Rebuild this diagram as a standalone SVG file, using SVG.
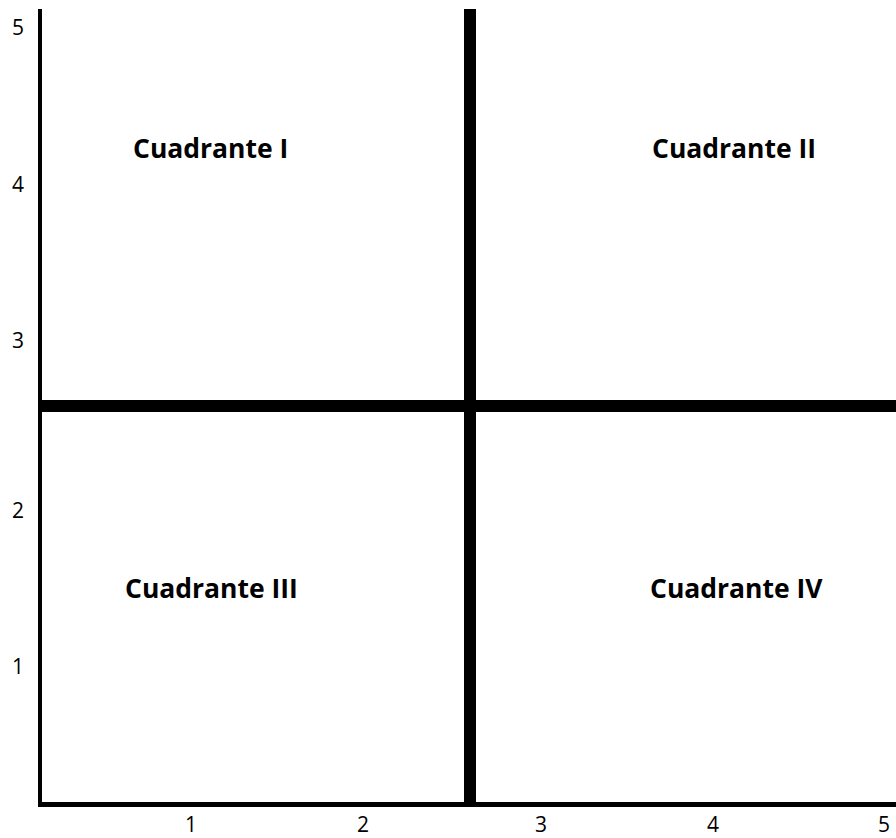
<svg xmlns="http://www.w3.org/2000/svg" width="896" height="838" viewBox="0 0 896 838">
<style>
.num{font-family:"Open Sans","Liberation Sans",sans-serif;font-size:21px;fill:#000;text-anchor:middle}
.lbl{font-family:"Open Sans","Liberation Sans",sans-serif;font-size:26.5px;font-weight:bold;fill:#000}
</style>
<rect width="896" height="838" fill="#fff"/>
<g id="axes">
<rect x="38" y="9" width="4" height="798" fill="#000"/>
<rect x="38" y="802" width="858" height="5" fill="#000"/>
</g>
<g id="dividers">
<rect x="464" y="9" width="12" height="793" fill="#000"/>
<rect x="38" y="400" width="858" height="12" fill="#000"/>
</g>
<g id="y-ticks">
<text class="num" x="18" y="35">5</text>
<text class="num" x="18" y="192">4</text>
<text class="num" x="18" y="348">3</text>
<text class="num" x="18" y="518">2</text>
<text class="num" x="18" y="674">1</text>
</g>
<g id="x-ticks">
<text class="num" x="191" y="832">1</text>
<text class="num" x="363" y="832">2</text>
<text class="num" x="541" y="832">3</text>
<text class="num" x="713" y="832">4</text>
<text class="num" x="884" y="832">5</text>
</g>
<g id="q1"><text class="lbl" x="133" y="158">Cuadrante I</text></g>
<g id="q2"><text class="lbl" x="652" y="158">Cuadrante II</text></g>
<g id="q3"><text class="lbl" x="125" y="598">Cuadrante III</text></g>
<g id="q4"><text class="lbl" x="650" y="598">Cuadrante IV</text></g>
</svg>
